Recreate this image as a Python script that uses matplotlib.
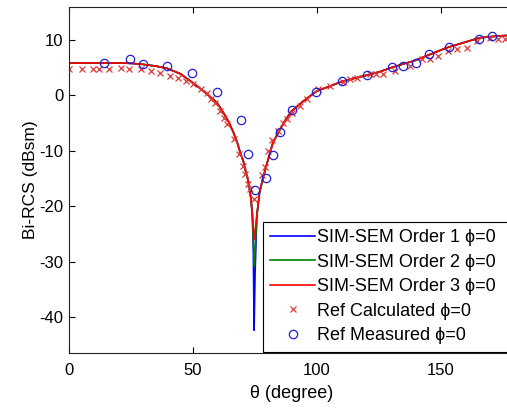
import matplotlib
matplotlib.use("Agg")
import matplotlib.pyplot as plt

plt.rcParams['font.family'] = ['Liberation Sans', 'DejaVu Sans']
plt.rcParams['font.size'] = 12
plt.rcParams['axes.unicode_minus'] = False

# SIM-SEM curve shared by all orders (away from the null)
curve_left_theta = [0, 20, 25, 30, 35, 39.5, 45, 49, 52, 55.6, 59.7, 62.3, 64.5, 66.4, 68, 69.1, 70.4, 71.1, 72.4, 73.4, 74.0]
curve_left_val = [5.85, 5.85, 5.8, 5.6, 5.3, 4.9, 3.9, 2.6, 1.6, 0.3, -1.3, -3.1, -4.8, -6.7, -8.6, -10.3, -11.9, -13.3, -15.5, -18.5, -21.5]
curve_right_theta = [75.8, 76.9, 78.5, 80.5, 82.3, 85.2, 87.5, 89.9, 94.6, 100, 105.4, 110.7, 116.1, 121.5, 125.5, 130, 135, 139, 145.7, 152.4, 159.1, 165.8, 172.6, 180]
curve_right_val = [-21.7, -17.5, -14.5, -11.3, -8.5, -6.1, -4.3, -2.8, -1.0, 0.8, 1.7, 2.6, 3.2, 3.8, 4.3, 5.0, 5.7, 6.2, 7.4, 8.6, 9.5, 10.4, 10.7, 10.9]

# points around the null for each order
null1_theta = [74.4, 74.7, 75.1]
null1_val = [-28.0, -42.3, -32.0]
null2_theta = [74.8]
null2_val = [-30.8]
null3_theta = [74.7]
null3_val = [-26.0]

# reference calculated
calc_theta = [0, 5.2, 9.5, 12.2, 16.3, 20.8, 24.4, 28.9, 33.1, 36.8, 40.6, 44, 47.3, 50.2, 53.1, 55.6,
              57.2, 59, 61, 62.4, 63.7, 66.4, 68.8, 70.4, 71.1, 72.4, 73.1, 74.8,
              77.8, 79.2, 80.5, 82.0, 84.5, 86.5, 88, 90, 93.3, 96, 100.6, 105.4, 110.7, 113.5, 116.1,
              121.5, 124, 126.9, 131.6, 137.6, 142.3, 145.7, 149, 153.1, 156.5, 160.7, 164.5, 169.9,
              173.2, 175.9]
calc_val = [4.7, 4.7, 4.7, 4.7, 4.7, 4.9, 4.7, 4.7, 4.4, 4.1, 3.6, 3.2, 2.7, 2.1, 1.2, 0.4,
            -0.6, -1.3, -2.8, -4.0, -5.2, -7.9, -10.6, -12.7, -14.2, -16.0, -16.9, -18.7,
            -14.3, -12.8, -10.0, -8.0, -6.4, -5.0, -4.2, -3.1, -1.9, -0.7, 1.1, 1.7, 2.4, 2.9, 3.2,
            3.8, 3.8, 3.8, 4.4, 5.3, 6.5, 6.5, 7.1, 8.0, 8.3, 8.6, 9.8, 10.4,
            10.1, 10.1]

# reference measured
meas_theta = [14, 24.8, 30, 39.5, 49.8, 59.8, 69.6, 72.3, 75.1, 79.7, 82.4, 85.2, 90.2, 99.8,
              110.3, 120.3, 130.4, 134.9, 140, 145.3, 153.5, 165.6, 170.7]
meas_val = [5.9, 6.5, 5.7, 5.3, 4.1, 0.6, -4.4, -10.6, -17.1, -14.8, -10.7, -6.5, -2.7, 0.7,
            2.7, 3.7, 5.1, 5.3, 5.8, 7.5, 8.7, 10.1, 10.7]

labels = ['SIM-SEM Order 1 \u03d5=0', 'SIM-SEM Order 2 \u03d5=0', 'SIM-SEM Order 3 \u03d5=0',
          'Ref Calculated \u03d5=0', 'Ref Measured \u03d5=0']

fig = plt.figure(figsize=(5.07, 4.09), dpi=100)
ax = fig.add_axes([69 / 507, 56 / 409, 446 / 507, 346.3 / 409])

nulls = [(null1_theta, null1_val), (null2_theta, null2_val), (null3_theta, null3_val)]
colors = ['#0000ff', '#008000', '#ff0000']
for (nt, nv), c, lab in zip(nulls, colors, labels[:3]):
    ax.plot(curve_left_theta + nt + curve_right_theta, curve_left_val + nv + curve_right_val,
            color=c, lw=1.2, label=lab)

ax.plot(calc_theta, calc_val, 'x', color='#e03838', ms=4.5, mew=0.9, label=labels[3])
ax.plot(meas_theta, meas_val, 'o', color='#2020d0', mfc='none', ms=6, mew=0.9, label=labels[4])

ax.set_xlim(0, 180)
ax.set_ylim(-46.4, 16)
ax.set_xticks([0, 50, 100, 150])
ax.set_yticks([-40, -30, -20, -10, 0, 10])
ax.tick_params(direction='in', top=True, right=True, length=4, width=0.8)
ax.tick_params(axis='x', pad=7)
ax.tick_params(axis='y', pad=4)
for s in ax.spines.values():
    s.set_linewidth(0.8)
    s.set_color('#222222')

ax.set_xlabel('\u03b8 (degree)', fontsize=13, labelpad=5)
ax.set_ylabel('Bi-RCS (dBsm)', fontsize=12.5, labelpad=1)

# legend box runs past the right edge of the axes
leg = ax.legend(loc='lower left', mode='expand', prop={'size': 13},
                bbox_to_anchor=((263 - 69) / 446, 1.5 / 346.3, (515 - 263) / 446, 0.2),
                handlelength=2.5, handletextpad=0.1, borderpad=0.4, labelspacing=0.42,
                borderaxespad=0, fancybox=False, framealpha=1, edgecolor='black')
leg.get_frame().set_linewidth(0.8)

fig.savefig('out.png', dpi=100)
